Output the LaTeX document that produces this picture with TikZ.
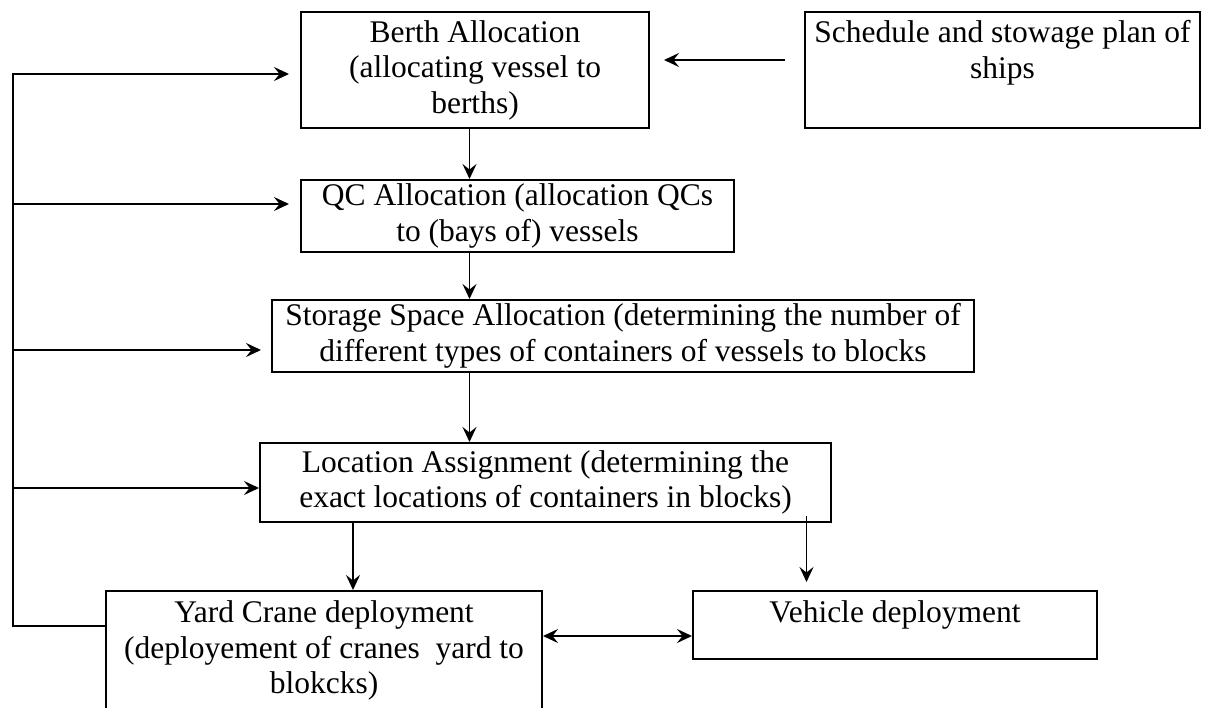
\documentclass[tikz,border=0pt]{standalone}
\usepackage{fontspec}
\setmainfont{Liberation Serif}
\usetikzlibrary{arrows.meta,calc}
\begin{document}
\begin{tikzpicture}[x=1pt,y=1pt,
  box/.style={draw, line width=2pt, inner sep=0pt, align=center,
    font=\fontsize{31.5}{35.5}\selectfont},
  arr/.style={line width=1.9pt, -{Stealth[length=15pt,width=14pt,inset=5.5pt]}},
  dbl/.style={line width=1.9pt, {Stealth[length=15pt,width=14pt,inset=5.5pt]}-{Stealth[length=15pt,width=14pt,inset=5.5pt]}},
  link/.style={line width=1.9pt}]
\useasboundingbox (0,0) rectangle (1210,-707);
\fill[white] (0,0) rectangle (1210,-707);

\node[box, minimum width=348pt, minimum height=116pt] (berth) at (475,-70)
  {Berth Allocation\\(allocating vessel to\\berths)};
\node[box, minimum width=395pt, minimum height=116pt] (sched) at (1002.5,-70)
  {Schedule and stowage plan of\\ships\\[6pt]\mbox{}};
\node[box, minimum width=433pt, minimum height=72pt] (qc) at (517.5,-216)
  {QC Allocation (allocation QCs\\to (bays of) vessels};
\node[box, minimum width=702pt, minimum height=72pt] (storage) at (623,-336)
  {Storage Space Allocation (determining the number of\\different types of containers of vessels to blocks};
\node[box, minimum width=571pt, minimum height=79pt] (loc) at (545.5,-482.5)
  {Location Assignment (determining the\\exact locations of containers in blocks)};
\node[box, minimum width=436pt, minimum height=119pt] (yard) at (324,-650.5)
  {Yard Crane deployment\\(deployement of cranes\ \ yard to\\blokcks)};
\node[box, minimum width=404pt, text height=31pt, text depth=37pt] (veh) at (895,-625)
  {Vehicle deployment};

\coordinate (colA) at (469.5,0);
\coordinate (colB) at (353,0);
\coordinate (colC) at (806.5,0);
\coordinate (rowS) at (0,-60);
\coordinate (rowD) at (0,-636);
\coordinate (fbTop) at (13,-74);
\coordinate (fbQC) at (13,-204);
\coordinate (fbSt) at (13,-350);
\coordinate (fbLoc) at (13,-488);
\coordinate (fbBot) at (13,-626);

\draw[arr, shorten <=19pt, shorten >=14pt] (sched.west |- rowS) -- (berth.east |- rowS);
\draw[arr] (berth.south -| colA) -- (qc.north -| colA);
\draw[arr] (qc.south -| colA) -- (storage.north -| colA);
\draw[arr] (storage.south -| colA) -- (loc.north -| colA);
\draw[arr] (loc.south -| colB) -- (yard.north -| colB);
\draw[arr, shorten >=8pt] ($(loc.south -| colC)+(0,7)$) -- (veh.north -| colC);
\draw[dbl] (yard.east |- rowD) -- (veh.west |- rowD);

\draw[arr, shorten >=11pt] (yard.west |- fbBot) -- (fbBot) -- (fbTop) -- (berth.west |- fbTop);
\draw[arr, shorten >=11pt] (fbQC) -- (qc.west |- fbQC);
\draw[arr, shorten >=10pt] (fbSt) -- (storage.west |- fbSt);
\draw[arr] (fbLoc) -- (loc.west |- fbLoc);
\end{tikzpicture}
\end{document}
